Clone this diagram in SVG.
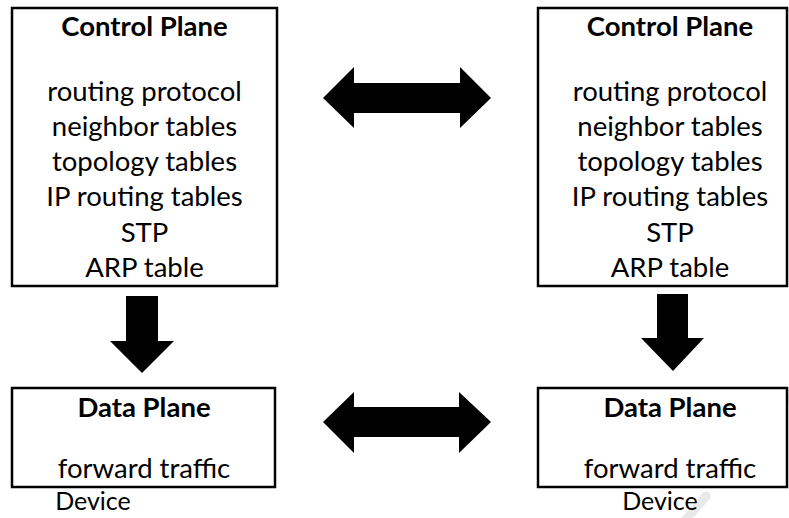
<svg xmlns="http://www.w3.org/2000/svg" width="789" height="518" viewBox="0 0 789 518">
<style>
.box{fill:#fff;stroke:#000;stroke-width:2.5}
text{font-family:Lato,"Liberation Sans",sans-serif;font-size:27.5px;fill:#000;text-anchor:middle}
.t{font-weight:bold}
.d{font-size:25px}
.arr{fill:#000}
.wm{fill:none;stroke:#e9e9e9;stroke-width:9;stroke-linecap:round}
</style>
<rect width="789" height="518" fill="#fff"/>
<g id="watermark">
<path class="wm" d="M752,452 C755,430 762,410 789,398"/>
<path class="wm" d="M684,522 L706,496"/>
</g>
<g id="cp-left">
<rect class="box" x="12" y="8" width="265" height="278"/>
<text class="t" x="144.5" y="36">Control Plane</text>
<text x="144.5" y="101">routing protocol</text>
<text x="144.5" y="136">neighbor tables</text>
<text x="144.5" y="171">topology tables</text>
<text x="144.5" y="206">IP routing tables</text>
<text x="144.5" y="242">STP</text>
<text x="144.5" y="277">ARP table</text>
</g>
<g id="cp-right">
<rect class="box" x="538" y="8" width="249" height="278"/>
<text class="t" x="670" y="36">Control Plane</text>
<text x="670" y="101">routing protocol</text>
<text x="670" y="136">neighbor tables</text>
<text x="670" y="171">topology tables</text>
<text x="670" y="206">IP routing tables</text>
<text x="670" y="242">STP</text>
<text x="670" y="277">ARP table</text>
</g>
<g id="dp-left">
<rect class="box" x="12" y="388" width="263" height="99"/>
<text class="t" x="144" y="417">Data Plane</text>
<text x="144" y="478">forward traffic</text>
<text class="d" x="93" y="510">Device</text>
</g>
<g id="dp-right">
<rect class="box" x="538" y="388" width="249" height="99"/>
<text class="t" x="670" y="417">Data Plane</text>
<text x="670" y="478">forward traffic</text>
<text class="d" x="660" y="510">Device</text>
</g>
<g id="connectors">
<polygon class="arr" points="323,98 354,67 354,83 460,83 460,67 491,98 460,128 460,113 354,113 354,128"/>
<polygon class="arr" points="323,422 354,392 354,407 459,407 459,392 491,422 459,453 459,437 354,437 354,453"/>
<polygon class="arr" points="126,296 158,296 158,341 174,341 142,373 110,341 126,341"/>
<polygon class="arr" points="657,294 688,294 688,338 704,338 673,371 641,338 657,338"/>
</g>
</svg>
